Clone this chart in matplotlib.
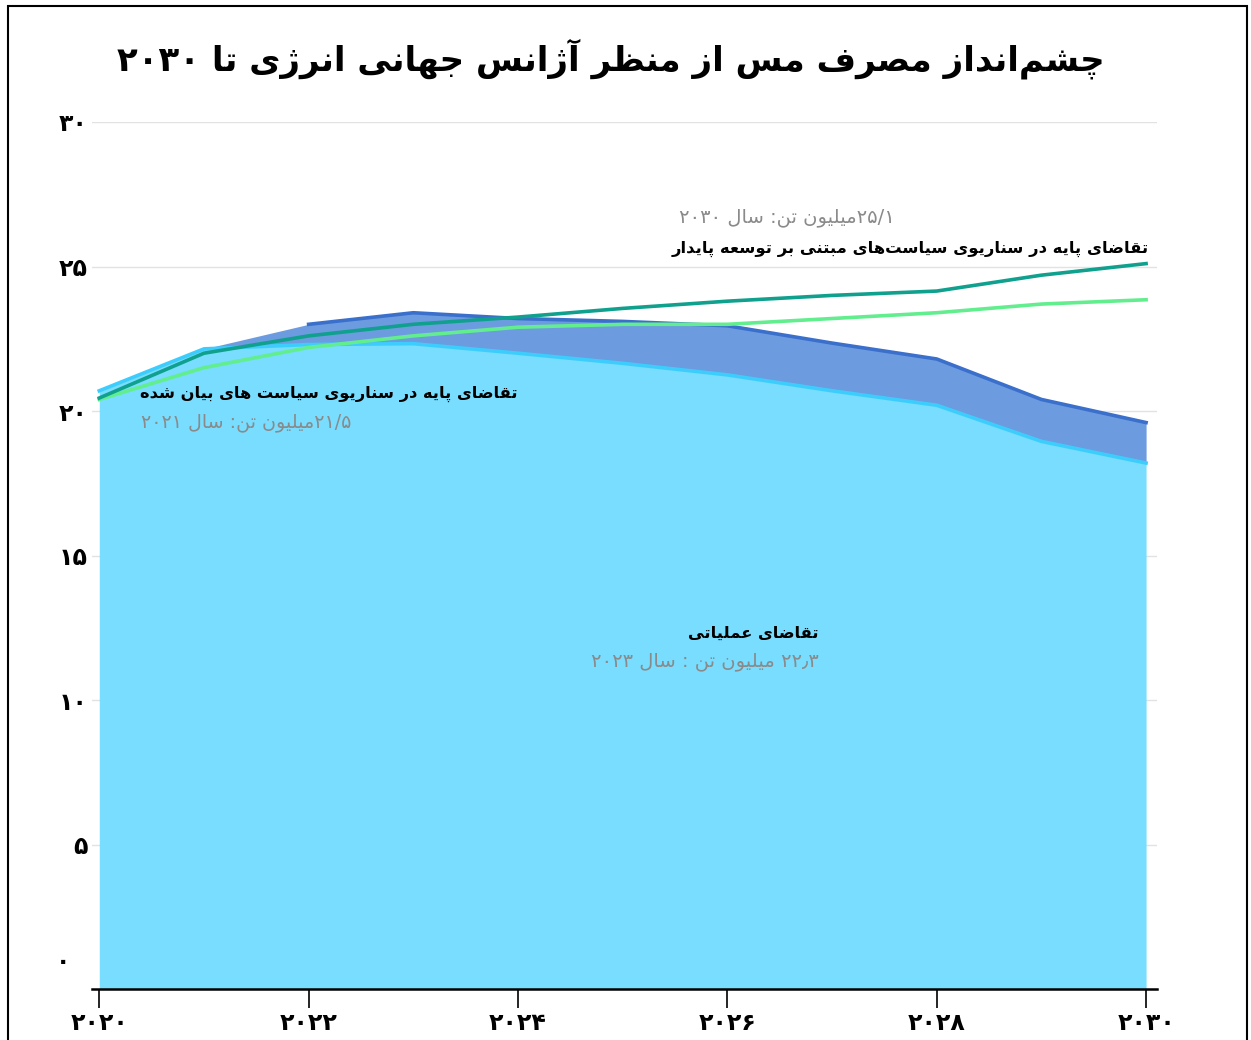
import re
import matplotlib
matplotlib.use("Agg")
import matplotlib.pyplot as plt
from matplotlib.patches import Rectangle
from matplotlib.transforms import ScaledTranslation

plt.rcParams['font.family'] = ['DejaVu Sans']

# data (million tonnes)
years = [2020, 2021, 2022, 2023, 2024, 2025, 2026, 2027, 2028, 2029, 2030]
operational = [20.7, 22.15, 22.3, 22.33, 22.0, 21.65, 21.25, 20.7, 20.2, 18.95, 18.2]
total_demand = [None, 22.15, 23.0, 23.4, 23.2, 23.1, 22.95, 22.35, 21.8, 20.4, 19.6]
sustainable = [20.45, 22.0, 22.6, 23.0, 23.25, 23.55, 23.8, 24.0, 24.15, 24.7, 25.1]
stated = [20.4, 21.5, 22.2, 22.6, 22.9, 23.0, 23.0, 23.2, 23.4, 23.7, 23.85]

yticks = [0, 5, 10, 15, 20, 25, 30]
ytick_labels = ['۰', '۵', '۱۰', '۱۵', '۲۰', '۲۵', '۳۰']
xticks = [2020, 2022, 2024, 2026, 2028, 2030]
xtick_labels = ['۲۰۲۰', '۲۰۲۲', '۲۰۲۴', '۲۰۲۶', '۲۰۲۸', '۲۰۳۰']

title = 'چشم\u200cانداز مصرف مس از منظر آژانس جهانی انرژی تا ۲۰۳۰'
sus_label = 'تقاضای پایه در سناریوی سیاست\u200cهای مبتنی بر توسعه پایدار'
sus_value = '۲۵/۱میلیون تن: سال ۲۰۳۰'
stated_label = 'تقاضای پایه در سناریوی سیاست های بیان شده'
stated_value = '۲۱/۵میلیون تن: سال ۲۰۲۱'
oper_label = 'تقاضای عملیاتی'
oper_value = '۲۲٫۳ میلیون تن : سال ۲۰۲۳'

# contextual forms: isolated, final, initial, medial (2 entries = right-joining only)
FORMS = {
    'ا': (0xFE8D, 0xFE8E), 'آ': (0xFE81, 0xFE82),
    'د': (0xFEA9, 0xFEAA), 'ر': (0xFEAD, 0xFEAE), 'ز': (0xFEAF, 0xFEB0),
    'ژ': (0xFB8A, 0xFB8B), 'و': (0xFEED, 0xFEEE),
    'ب': (0xFE8F, 0xFE90, 0xFE91, 0xFE92), 'پ': (0xFB56, 0xFB57, 0xFB58, 0xFB59),
    'ت': (0xFE95, 0xFE96, 0xFE97, 0xFE98), 'ج': (0xFE9D, 0xFE9E, 0xFE9F, 0xFEA0),
    'چ': (0xFB7A, 0xFB7B, 0xFB7C, 0xFB7D), 'س': (0xFEB1, 0xFEB2, 0xFEB3, 0xFEB4),
    'ش': (0xFEB5, 0xFEB6, 0xFEB7, 0xFEB8), 'ص': (0xFEB9, 0xFEBA, 0xFEBB, 0xFEBC),
    'ض': (0xFEBD, 0xFEBE, 0xFEBF, 0xFEC0), 'ظ': (0xFEC5, 0xFEC6, 0xFEC7, 0xFEC8),
    'ع': (0xFEC9, 0xFECA, 0xFECB, 0xFECC), 'ف': (0xFED1, 0xFED2, 0xFED3, 0xFED4),
    'ق': (0xFED5, 0xFED6, 0xFED7, 0xFED8), 'ل': (0xFEDD, 0xFEDE, 0xFEDF, 0xFEE0),
    'م': (0xFEE1, 0xFEE2, 0xFEE3, 0xFEE4), 'ن': (0xFEE5, 0xFEE6, 0xFEE7, 0xFEE8),
    'ه': (0xFEE9, 0xFEEA, 0xFEEB, 0xFEEC), 'ی': (0xFBFC, 0xFBFD, 0xFBFE, 0xFBFF),
    'ک': (0xFB8E, 0xFB8F, 0xFB90, 0xFB91), 'گ': (0xFB92, 0xFB93, 0xFB94, 0xFB95),
}
DIGITS = '۰۱۲۳۴۵۶۷۸۹0123456789'


def shape(text):
    out = []
    for i, c in enumerate(text):
        if c not in FORMS:
            if c != '\u200c':
                out.append(c)
            continue
        f = FORMS[c]
        prev = text[i - 1] if i > 0 else ''
        nxt = text[i + 1] if i + 1 < len(text) else ''
        p = prev in FORMS and len(FORMS[prev]) == 4
        n = len(f) == 4 and nxt in FORMS
        if p and n:
            g = f[3]
        elif p:
            g = f[1]
        elif n:
            g = f[2]
        else:
            g = f[0]
        out.append(chr(g))
    return ''.join(out)


def rtl(text):
    """shape and put into visual (left-to-right) order, keeping numbers intact"""
    s = shape(text)
    parts = re.findall(r'[۰-۹0-9]+(?:[/٫.,][۰-۹0-9]+)*|[^۰-۹0-9]+', s)
    return ''.join(p if p[0] in DIGITS else p[::-1] for p in reversed(parts))


fig = plt.figure(figsize=(12.51, 10.40), dpi=100)
ax = fig.add_axes([0.0735, 0.049, 0.851, 0.8337])

light_fill = '#78ddfe'
light_edge = '#3dcdfd'
dark_fill = '#6c9bdf'
dark_edge = '#3a6fcc'
teal = '#10a08e'
green = '#62ee8e'

ax.fill_between(years, 0, operational, color=light_fill, lw=0, zorder=2)
ax.plot(years, operational, color=light_edge, lw=2.6, zorder=3)

yrs_d = years[1:]
ax.fill_between(yrs_d, operational[1:], total_demand[1:], color=dark_fill, lw=0, zorder=2)
ax.plot(years[2:], total_demand[2:], color=dark_edge, lw=2.6, zorder=3)

ax.plot(years, stated, color=green, lw=2.6, zorder=4)
ax.plot(years, sustainable, color=teal, lw=2.6, zorder=5)

ax.set_xlim(2019.93, 2030.1)
ax.set_ylim(0, 30)
ax.set_yticks(yticks)
ax.set_yticklabels(ytick_labels, fontsize=17, fontweight='bold')
ax.set_xticks(xticks)
ax.set_xticklabels(xtick_labels, fontsize=17, fontweight='bold')
ax.tick_params(axis='y', length=0, pad=3)
ax.tick_params(axis='x', length=14, width=1.2, pad=2, colors='black')
ax.grid(axis='y', color='#e2e2e2', lw=1, zorder=1)
for side in ['left', 'right', 'top']:
    ax.spines[side].set_visible(False)
ax.spines['bottom'].set_linewidth(1.8)
ax.spines['bottom'].set_zorder(6)

# the zero label sits a little above and left of its tick in the reference
zero = ax.get_yticklabels()[0]
zero.set_transform(zero.get_transform() + ScaledTranslation(-0.18, 0.30, fig.dpi_scale_trans))

# annotations
ax.text(2030.03, 25.6, rtl(sus_label), ha='right', va='center', fontsize=11.8, fontweight='bold', zorder=7)
ax.text(2027.6, 26.7, rtl(sus_value), ha='right', va='center', fontsize=14, color='#8a8a8a', zorder=7)
ax.text(2024.0, 20.6, rtl(stated_label), ha='right', va='center', fontsize=11.7, fontweight='bold', zorder=7)
ax.text(2022.41, 19.6, rtl(stated_value), ha='right', va='center', fontsize=13.7, color='#8a8a8a', zorder=7)
ax.text(2026.87, 12.3, rtl(oper_label), ha='right', va='center', fontsize=11.7, fontweight='bold', zorder=7)
ax.text(2026.87, 11.34, rtl(oper_value), ha='right', va='center', fontsize=14, color='#8a8a8a', zorder=7)

fig.text(0.488, 0.944, rtl(title), ha='center', va='center', fontsize=24.5, fontweight='bold')

fig.patches.append(Rectangle((0.006, -0.01), 0.991, 1.004, transform=fig.transFigure,
                             fill=False, edgecolor='black', lw=1.5))

fig.savefig('out.png', dpi=100)
